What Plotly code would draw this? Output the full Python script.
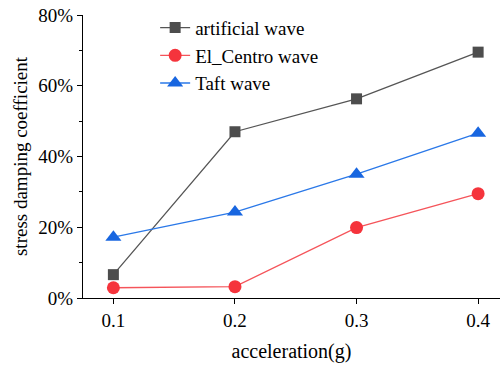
import plotly.graph_objects as go

accel = [0.1, 0.2, 0.3, 0.4]
artificial = [6.6, 47.0, 56.3, 69.5]
el_centro = [2.9, 3.2, 19.9, 29.5]
taft = [17.2, 24.3, 35.0, 46.6]
x_ticks = [0.1, 0.2, 0.3, 0.4]
y_ticks = [0, 20, 40, 60, 80]

FAM = "Times New Roman, Liberation Serif, serif"
F = dict(family=FAM, size=19, color="black")
FT = dict(family=FAM, size=20, color="black")

fig = go.Figure()
series = [
    ("artificial wave", artificial, "#4d4d4d", "#555555", "square", 11),
    ("El_Centro wave", el_centro, "#f5343c", "#f5545a", "circle", 13),
    ("Taft wave", taft, "#1866e0", "#2a78e8", "triangle-up", 14),
]
for i, (name, vals, mc, lc, sym, sz) in enumerate(series):
    fig.add_trace(go.Scatter(
        x=accel, y=vals, name=name, mode="lines+markers",
        line=dict(color=lc, width=1.3),
        marker=dict(symbol=sym, size=sz, color=mc, line=dict(width=0)),
        legendgroup=f"g{i}",
    ))

fig.update_layout(
    width=501, height=365,
    margin=dict(l=83, r=1, t=15, b=67),
    paper_bgcolor="white", plot_bgcolor="white",
    font=F,
    showlegend=True,
    legend=dict(x=0.173, y=1.022, xanchor="left", yanchor="top",
                bgcolor="rgba(0,0,0,0)", font=F,
                traceorder="grouped", tracegroupgap=0),
    xaxis=dict(range=[0.075, 0.418], tickvals=x_ticks, ticktext=[str(v) for v in x_ticks],
               tickfont=F,
               showgrid=False, zeroline=False, showline=True, linecolor="black", linewidth=1.3,
               ticks="outside", ticklen=5, tickwidth=1.2, tickcolor="black",
               title=dict(text="acceleration(g)", font=FT, standoff=14)),
    yaxis=dict(range=[0, 80], tickvals=y_ticks, ticktext=[f"{v}%" for v in y_ticks],
               tickfont=F,
               showgrid=False, zeroline=False, showline=True, linecolor="black", linewidth=1.3,
               ticks="outside", ticklen=5, tickwidth=1.2, tickcolor="black",
               minor=dict(ticks="outside", ticklen=3, tickvals=[10, 30, 50, 70], tickcolor="black", showgrid=False),
               title=dict(text="stress damping coefficient", font=F, standoff=5)),
)

fig.write_html("out.html", config={"displayModeBar": False},
               post_script="document.body.style.margin='0px';")
